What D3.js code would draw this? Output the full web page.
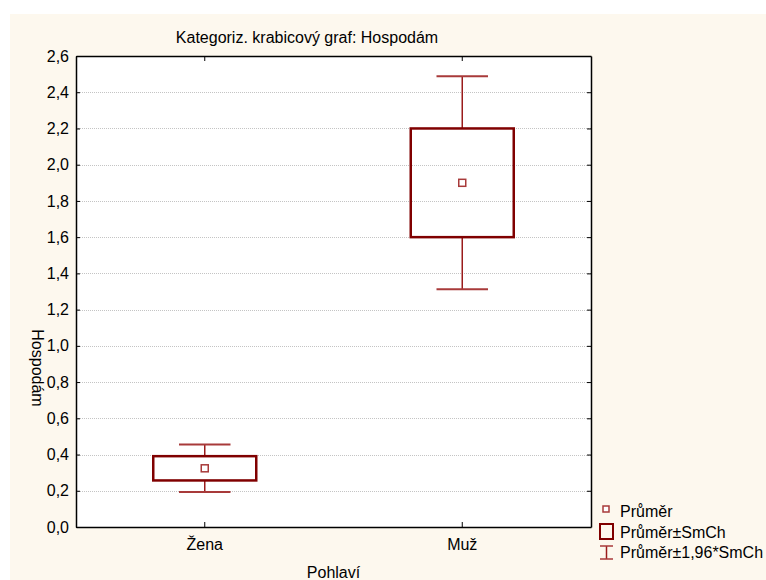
<!DOCTYPE html>
<html>
<head>
<meta charset="utf-8">
<script src="https://cdn.jsdelivr.net/npm/d3@7"></script>
<style>
    body { margin: 0; background: #ffffff; }
    svg { display: block; font-family: "Liberation Sans", Arial, sans-serif; }
</style>
</head>
<body>
<div id="chart"></div>
<script>
    // data
    const categories = ["Žena", "Muž"];
    const means = [0.324, 1.90];
    const stdErrors = [0.067, 0.30];
    const yTicks = [0, 0.2, 0.4, 0.6, 0.8, 1.0, 1.2, 1.4, 1.6, 1.8, 2.0, 2.2, 2.4, 2.6];

    const width = 766;
    const height = 580;
    const plot = { left: 76, right: 591, top: 56, bottom: 527 };
    const red = "#800000";
    const fontSize = 16;
    const fmt = v => d3.format(".1f")(v).replace(".", ",");

    const svg = d3.select("#chart").append("svg")
        .attr("width", width)
        .attr("height", height);

    // cream background of the graph window
    svg.append("rect")
        .attr("x", 10).attr("y", 14)
        .attr("width", width - 10).attr("height", height - 14)
        .attr("fill", "#fdf8ee");

    // scales
    const x = d3.scaleBand()
        .domain(categories)
        .range([plot.left, plot.right]);
    const y = d3.scaleLinear()
        .domain([0, 2.6])
        .range([plot.bottom, plot.top]);

    svg.append("rect")
        .attr("x", plot.left).attr("y", plot.top)
        .attr("width", plot.right - plot.left).attr("height", plot.bottom - plot.top)
        .attr("fill", "#ffffff");

    // gridlines
    svg.append("g")
        .selectAll("line")
        .data(yTicks.filter(t => t > 0 && t < 2.6))
        .join("line")
        .attr("x1", plot.left).attr("x2", plot.right)
        .attr("y1", d => Math.round(y(d)) + 0.5).attr("y2", d => Math.round(y(d)) + 0.5)
        .attr("stroke", "#c4c4c4")
        .attr("stroke-dasharray", "1,1");

    // axes (ticks point inwards)
    const leftAxis = svg.append("g")
        .attr("transform", `translate(${plot.left},0)`)
        .call(d3.axisLeft(y).tickValues(yTicks).tickFormat(fmt).tickSizeInner(-4).tickSizeOuter(0).tickPadding(7));
    const rightAxis = svg.append("g")
        .attr("transform", `translate(${plot.right},0)`)
        .call(d3.axisRight(y).tickValues(yTicks).tickFormat("").tickSizeInner(-4).tickSizeOuter(0));
    const bottomAxis = svg.append("g")
        .attr("transform", `translate(0,${plot.bottom})`)
        .call(d3.axisBottom(x).tickSizeInner(-5).tickSizeOuter(0).tickPadding(12));
    const topAxis = svg.append("g")
        .attr("transform", `translate(0,${plot.top})`)
        .call(d3.axisTop(x).tickFormat("").tickSizeInner(-5).tickSizeOuter(0));

    [leftAxis, rightAxis, bottomAxis, topAxis].forEach(a => {
        a.select(".domain").attr("stroke", "#000").attr("stroke-width", 1.5);
        a.selectAll(".tick line").attr("stroke", "#000");
        a.selectAll("text").attr("font-size", fontSize).attr("fill", "#000")
            .attr("font-family", "Liberation Sans, Arial, sans-serif");
    });

    // boxes: mean ± SE, whiskers mean ± 1.96*SE
    const boxW = x.bandwidth() * 0.4;
    const capW = x.bandwidth() * 0.2;
    const g = svg.append("g");

    categories.forEach((c, i) => {
        const cx = x(c) + x.bandwidth() / 2;
        const m = means[i];
        const se = stdErrors[i];

        // whisker stems
        g.append("line")
            .attr("x1", cx).attr("x2", cx)
            .attr("y1", y(m + 1.96 * se)).attr("y2", y(m + se))
            .attr("stroke", "#9a1c1c").attr("stroke-width", 1.5);
        g.append("line")
            .attr("x1", cx).attr("x2", cx)
            .attr("y1", y(m - se)).attr("y2", y(m - 1.96 * se))
            .attr("stroke", "#9a1c1c").attr("stroke-width", 1.5);
        // caps
        [m + 1.96 * se, m - 1.96 * se].forEach(v => {
            g.append("line")
                .attr("x1", cx - capW / 2).attr("x2", cx + capW / 2)
                .attr("y1", y(v)).attr("y2", y(v))
                .attr("stroke", "#a83a3a").attr("stroke-width", 2);
        });
        // box
        g.append("rect")
            .attr("x", cx - boxW / 2).attr("y", y(m + se))
            .attr("width", boxW).attr("height", y(m - se) - y(m + se))
            .attr("fill", "none")
            .attr("stroke", red).attr("stroke-width", 2.5);
        // mean marker
        g.append("rect")
            .attr("x", cx - 3.5).attr("y", y(m) - 3.5)
            .attr("width", 7).attr("height", 7)
            .attr("fill", "#fff")
            .attr("stroke", "#a83a3a").attr("stroke-width", 1.5);
    });

    // titles
    svg.append("text")
        .attr("x", 307).attr("y", 43)
        .attr("text-anchor", "middle")
        .attr("font-size", fontSize)
        .text("Kategoriz. krabicový graf: Hospodám");

    svg.append("text")
        .attr("x", (plot.left + plot.right) / 2).attr("y", 578)
        .attr("text-anchor", "middle")
        .attr("font-size", fontSize)
        .text("Pohlaví");

    svg.append("text")
        .attr("transform", "translate(32,368) rotate(90)")
        .attr("text-anchor", "middle")
        .attr("font-size", fontSize)
        .text("Hospodám");

    // legend
    const legend = svg.append("g");
    legend.append("rect")
        .attr("x", 603).attr("y", 506).attr("width", 6).attr("height", 6)
        .attr("fill", "#fff").attr("stroke", "#a83a3a").attr("stroke-width", 1.5);
    legend.append("rect")
        .attr("x", 600).attr("y", 524).attr("width", 13).attr("height", 15)
        .attr("fill", "none").attr("stroke", red).attr("stroke-width", 2);
    legend.append("line")
        .attr("x1", 606.5).attr("x2", 606.5).attr("y1", 546).attr("y2", 559)
        .attr("stroke", "#9a1c1c").attr("stroke-width", 1.5);
    [546, 559].forEach(yy => {
        legend.append("line")
            .attr("x1", 600).attr("x2", 613).attr("y1", yy).attr("y2", yy)
            .attr("stroke", "#a83a3a").attr("stroke-width", 1.5);
    });
    const legendLabels = ["Průměr", "Průměr±SmCh", "Průměr±1,96*SmCh"];
    legend.selectAll("text")
        .data(legendLabels)
        .join("text")
        .attr("x", 620)
        .attr("y", (d, i) => 517 + i * 20.5)
        .attr("font-size", fontSize)
        .text(d => d);
</script>
</body>
</html>
